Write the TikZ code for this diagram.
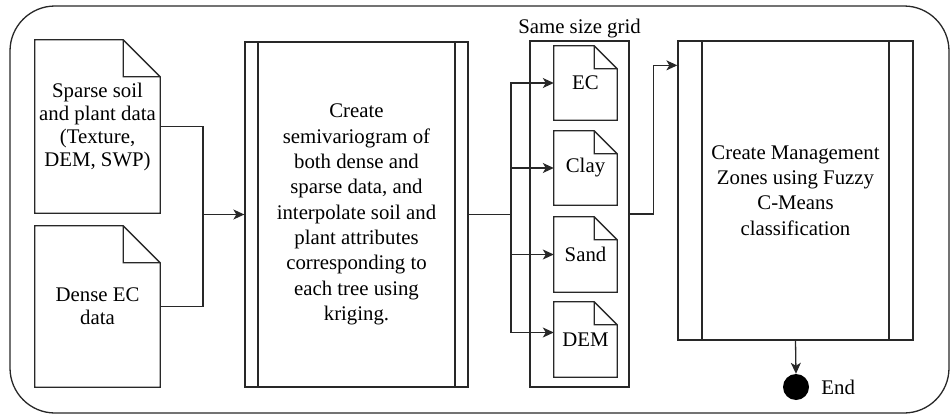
\documentclass[tikz,border=0pt]{standalone}
\usepackage{fontspec}
\setmainfont{Liberation Serif}
\usetikzlibrary{arrows.meta,positioning,calc}
\definecolor{LineC}{RGB}{40,40,40}
\tikzset{
  wire/.style={line width=1.3pt,LineC},
  arr/.style={wire,-{Stealth[length=11pt,width=10pt,inset=3pt]}},
  txt/.style={font=\fontsize{20.8}{25.3}\selectfont,align=center,inner sep=0pt},
  proc/.style={txt,draw=LineC,line width=1.3pt,fill=white,
    path picture={
      \draw[wire] ([xshift=#1]path picture bounding box.north west) -- ([xshift=#1]path picture bounding box.south west);
      \draw[wire] ([xshift=-#1]path picture bounding box.north east) -- ([xshift=-#1]path picture bounding box.south east);
    }},
  doc/.style={txt,font=\fontsize{20.8}{23}\selectfont,
    append after command={\pgfextra{\let\docnm\tikzlastnode
      \draw[wire] (\docnm.north west) -- ([xshift=-#1]\docnm.north east)
        -- ([yshift=-#1]\docnm.north east) -- (\docnm.south east)
        -- (\docnm.south west) -- cycle
        ([xshift=-#1]\docnm.north east) |- ([yshift=-#1]\docnm.north east);}}},
  doc/.default=37pt,
  gridbox/.style={draw=LineC,line width=1.3pt,fill=white,minimum width=99pt,minimum height=346pt},
}

\begin{document}
\begin{tikzpicture}[x=1pt,y=-1pt]
  \useasboundingbox (0,0) rectangle (951,415);
  \node[draw=LineC,line width=1.3pt,fill=white,rounded corners=45pt,
        minimum width=939pt,minimum height=407pt] (frame) at (479.5,209.5) {};

  \node[doc,minimum width=125pt,minimum height=173pt] (sparse) at (97.5,126.5)
    {Sparse soil\\and plant data\\(Texture,\\DEM, SWP)};
  \node[doc,minimum width=125pt,minimum height=161pt] (dense) at (97.5,306.5)
    {Dense EC\\data};

  \node[proc=13pt,minimum width=223pt,minimum height=345pt] (krig) at (356.5,214.5)
    {Create\\semivariogram of\\both dense and\\sparse data, and\\interpolate soil and\\plant attributes\\corresponding to\\each tree using\\kriging.};

  \node[gridbox] (grid) at (579.5,214) {};
  \node[txt,above=2pt of grid] (gridlbl) {Same size grid};
  \node[doc=23pt,minimum width=63pt,minimum height=74pt] (ec)   at (585.5,83)    {EC};
  \node[doc=23pt,minimum width=63pt,minimum height=74pt] (clay) at (585.5,168)   {Clay};
  \node[doc=23pt,minimum width=63pt,minimum height=75pt] (sand) at (585.5,254.5) {Sand};
  \node[doc=23pt,minimum width=63pt,minimum height=75pt] (dem)  at (585.5,339.5) {DEM};

  \node[proc=24pt,minimum width=235pt,minimum height=299pt] (zones) at (795.5,190.5)
    {Create Management\\Zones using Fuzzy\\C-Means\\classification};

  \node[circle,fill=black,minimum size=26pt,inner sep=0pt] (endpt) at (796,387) {};
  \node[txt,right=12pt of endpt] (endlbl) {End};

  \coordinate (j1) at (203,214.5);
  \coordinate (j2) at (511,214.5);

  \draw[wire] (sparse.east) -| (j1) |- (dense.east);
  \draw[arr] (j1) -- (krig.west);

  \draw[wire] (krig.east) -- (j2);
  \draw[arr] (j2) |- (ec.west);
  \draw[arr] (j2) |- (clay.west);
  \draw[arr] (j2) |- (sand.west);
  \draw[arr] (j2) |- ([yshift=7pt]dem.west);

  \draw[arr] (grid.east) -- ++(24pt,0pt) |- ([yshift=-25pt]zones.north west);
  \draw[arr] (zones.south) -- (endpt.north);

\end{tikzpicture}
\end{document}
